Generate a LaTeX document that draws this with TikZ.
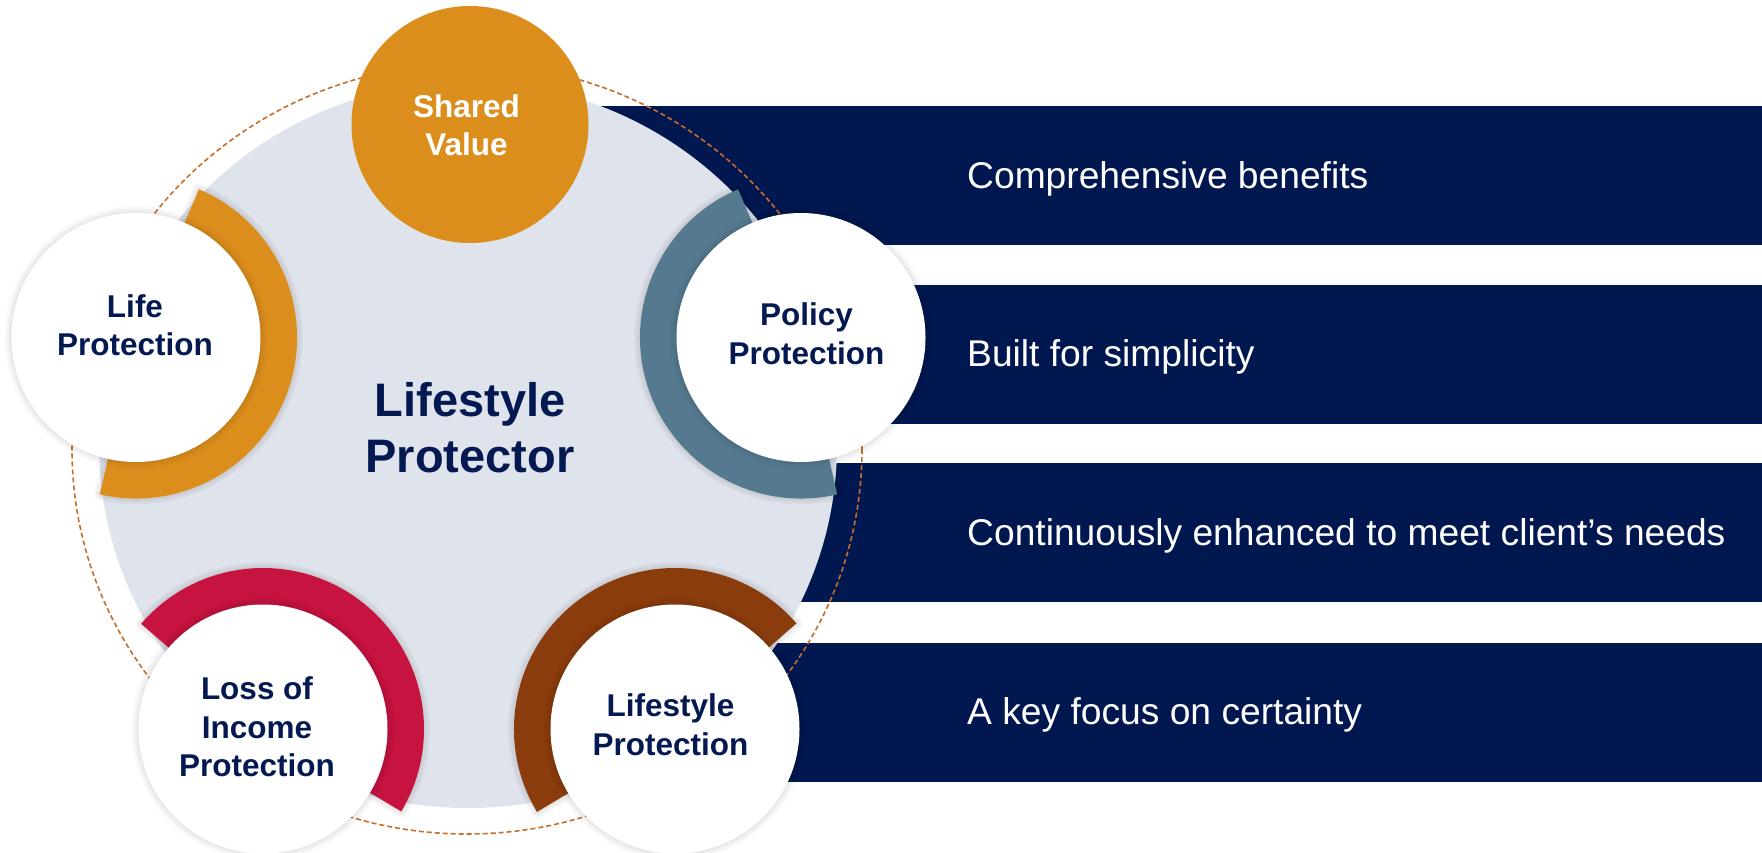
\documentclass[tikz,border=0pt]{standalone}
\usepackage{fontspec}
\setmainfont{Liberation Sans}

\definecolor{navy}{RGB}{1,23,79}
\definecolor{ink}{RGB}{4,25,82}
\definecolor{panel}{RGB}{223,227,235}
\definecolor{amber}{RGB}{220,142,28}
\definecolor{steel}{RGB}{85,122,144}
\definecolor{crimson}{RGB}{198,19,64}
\definecolor{rust}{RGB}{139,60,13}
\definecolor{dashcol}{RGB}{200,110,45}

% Thick open band (170 degrees) round a centre point, facing angle #2
\newcommand\bandring[3]{%
  \foreach \w in {4,8,12}{%
    \draw[black, opacity=0.03, line width=\w pt, line join=round]
      (#1) ++({#2-85}:161) arc[start angle={#2-85}, end angle={#2+85}, radius=161]
      -- ++({#2+85+180}:46) arc[start angle={#2+85}, end angle={#2-85}, radius=115] -- cycle;}
  \fill[#3]
      (#1) ++({#2-85}:161) arc[start angle={#2-85}, end angle={#2+85}, radius=161]
      -- ++({#2+85+180}:46) arc[start angle={#2+85}, end angle={#2-85}, radius=115] -- cycle;
}

\tikzset{
  bar/.style={rectangle, fill=navy, draw=none, inner sep=0pt,
    minimum width=1164pt, minimum height=139pt, anchor=north west},
  bartext/.style={text=white, inner sep=0pt, anchor=base west,
    font=\fontsize{37.2}{45}\selectfont},
  soft/.style={preaction={draw=black, draw opacity=0.025, line width=14pt},
    preaction={draw=black, draw opacity=0.03, line width=9pt},
    preaction={draw=black, draw opacity=0.035, line width=4pt}},
  whitedisc/.style={circle, fill=white, draw=none, inner sep=0pt,
    minimum size=249pt, soft},
  amberdisc/.style={circle, fill=amber, draw=none, inner sep=0pt,
    minimum size=237pt},
  % multi-line labels are placed by the baseline of their last line
  caption/.style={text=ink, inner sep=0pt, anchor=base, align=center,
    font=\fontsize{31.5}{38.5}\selectfont\bfseries},
  title/.style={text=ink, inner sep=0pt, anchor=base, align=center,
    font=\fontsize{47}{56.7}\selectfont\bfseries},
  dashline/.style={draw=dashcol, line width=1.6pt, dash pattern=on 5pt off 3pt}
}

\begin{document}
\begin{tikzpicture}[x=1pt,y=-1pt]
\useasboundingbox (0,0) rectangle (1762,852);
\fill[white] (0,0) rectangle (1762,852);

% navy benefit bars
\node[bar] (bar1) at (598,106) {};
\node[bar] (bar2) at (598,285) {};
\node[bar] (bar3) at (598,463) {};
\node[bar] (bar4) at (598,643) {};

% dashed orbit and grey hub
\draw[dashline] (467,449) ellipse [x radius=395, y radius=385];
\fill[panel] (468,445) ellipse [x radius=369, y radius=363];

% centres of the satellite discs
\coordinate (pShared) at (470,124.5);
\coordinate (pLife)   at (136,337.5);
\coordinate (pPolicy) at (801,337.5);
\coordinate (pLoss)   at (263,729);
\coordinate (pStyle)  at (675,729);

% coloured bands facing the hub
\bandring{pLife}{18}{amber}
\bandring{pPolicy}{162}{steel}
\bandring{pLoss}{-54.2}{crimson}
\bandring{pStyle}{-126}{rust}

% discs
\node[amberdisc] (shared) at (pShared) {};
\node[whitedisc] (life)   at (pLife) {};
\node[whitedisc] (policy) at (pPolicy) {};
\node[whitedisc] (loss)   at (pLoss) {};
\node[whitedisc] (style)  at (pStyle) {};

% labels
\node[caption, text=white] (sharedT) at (466.5,155.5) {Shared\\Value};
\node[caption] (lifeT)   at (135,355.8) {Life\\Protection};
\node[caption] (policyT) at (806.5,364.3) {Policy\\Protection};
\node[caption] (lossT)   at (257,776.7) {Loss of\\Income\\Protection};
\node[caption] (styleT)  at (670.5,755) {Lifestyle\\Protection};
\node[title] (hubT) at (470,472.7) {Lifestyle\\Protector};

% bar texts
\node[bartext] (t1) at (967,188) {Comprehensive benefits};
\node[bartext] (t2) at (967,366.5) {Built for simplicity};
\node[bartext] (t3) at (967,545) {Continuously enhanced to meet client’s needs};
\node[bartext] (t4) at (967,724.5) {A key focus on certainty};
\end{tikzpicture}
\end{document}
